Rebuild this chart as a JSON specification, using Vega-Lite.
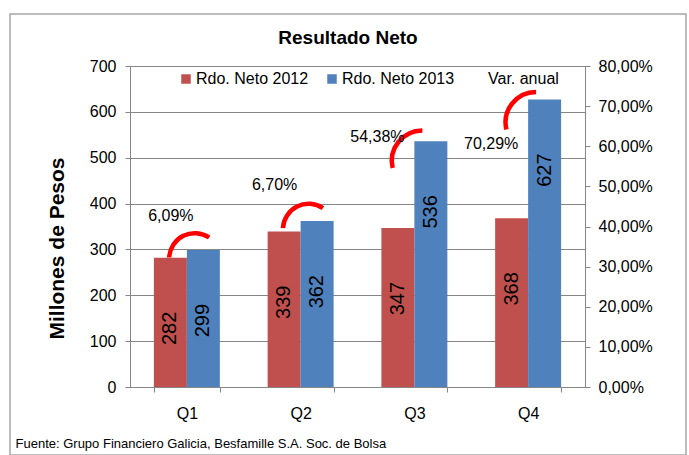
{
  "$schema": "https://vega.github.io/schema/vega-lite/v6.json",
  "width": 676,
  "height": 441,
  "autosize": {"type": "none"},
  "padding": {"left": 10, "top": 14, "right": 3, "bottom": 0},
  "background": "white",
  "config": {
    "view": {"stroke": "#A6A6A6", "strokeWidth": 1.5},
    "font": "Liberation Sans"
  },
  "title": {
    "text": "Resultado Neto",
    "font": "Liberation Sans",
    "fontSize": 19,
    "fontWeight": "bold",
    "color": "black",
    "anchor": "middle",
    "frame": "group",
    "baseline": "alphabetic",
    "offset": 0,
    "dy": 49
  },
  "datasets": {
    "barras": [
      {"q": "Q1", "serie": "Rdo. Neto 2012", "valor": 282},
      {"q": "Q1", "serie": "Rdo. Neto 2013", "valor": 299},
      {"q": "Q2", "serie": "Rdo. Neto 2012", "valor": 339},
      {"q": "Q2", "serie": "Rdo. Neto 2013", "valor": 362},
      {"q": "Q3", "serie": "Rdo. Neto 2012", "valor": 347},
      {"q": "Q3", "serie": "Rdo. Neto 2013", "valor": 536},
      {"q": "Q4", "serie": "Rdo. Neto 2012", "valor": 368},
      {"q": "Q4", "serie": "Rdo. Neto 2013", "valor": 627}
    ],
    "variacion": [
      {"q": "Q1", "var": 0.0609, "nivel_texto": 373, "nivel_arco": 280},
      {"q": "Q2", "var": 0.0670, "nivel_texto": 440, "nivel_arco": 344},
      {"q": "Q3", "var": 0.5438, "nivel_texto": 545, "nivel_arco": 493},
      {"q": "Q4", "var": 0.7029, "nivel_texto": 530, "nivel_arco": 577}
    ]
  },
  "layer": [
    {
      "layer": [
        {
          "data": {"name": "barras"},
          "mark": {"type": "bar"},
          "encoding": {
            "x": {
              "field": "q",
              "type": "nominal",
              "scale": {"range": [120, 575], "paddingInner": 0.42, "paddingOuter": 0.21},
              "axis": {
                "offset": -68,
                "labelAngle": 0,
                "tickBand": "extent",
                "tickSize": 5,
                "tickColor": "#868686",
                "domainColor": "#868686",
                "labelPadding": 13,
                "labelFont": "Liberation Sans",
                "labelFontSize": 16,
                "labelColor": "black",
                "title": "Fuente: Grupo Financiero Galicia, Besfamille S.A. Soc. de Bolsa",
                "titleFont": "Liberation Sans",
                "titleFontSize": 13,
                "titleFontWeight": "normal",
                "titleColor": "black",
                "titleAlign": "left",
                "titleBaseline": "middle",
                "titleX": 5,
                "titleY": 56
              }
            },
            "xOffset": {"field": "serie", "type": "nominal", "scale": {"paddingInner": 0}},
            "y": {
              "field": "valor",
              "type": "quantitative",
              "scale": {"domain": [0, 700], "range": [373, 52]},
              "axis": {
                "offset": -120,
                "values": [0, 100, 200, 300, 400, 500, 600, 700],
                "grid": true,
                "gridColor": "#868686",
                "domainColor": "#868686",
                "tickColor": "#868686",
                "tickSize": 5,
                "labelPadding": 9,
                "labelFont": "Liberation Sans",
                "labelFontSize": 16,
                "labelColor": "black",
                "title": "Millones de Pesos",
                "titleFont": "Liberation Sans",
                "titleFontSize": 21,
                "titleFontWeight": "bold",
                "titleColor": "black",
                "titleAngle": 270,
                "titleAlign": "center",
                "titleBaseline": "alphabetic",
                "titleX": -67,
                "titleY": 234
              }
            },
            "color": {
              "field": "serie",
              "type": "nominal",
              "scale": {
                "domain": ["Rdo. Neto 2012", "Rdo. Neto 2013", "Var. anual"],
                "range": ["#C0504D", "#4F81BD", "rgba(0,0,0,0)"]
              },
              "legend": {
                "orient": "none",
                "legendX": 168,
                "legendY": 57,
                "direction": "horizontal",
                "title": null,
                "symbolType": "square",
                "symbolSize": 90,
                "symbolStrokeWidth": 0,
                "labelFont": "Liberation Sans",
                "labelFontSize": 16,
                "labelColor": "black",
                "labelOffset": 2,
                "labelLimit": 300,
                "columnPadding": 15
              }
            }
          }
        },
        {
          "data": {"name": "barras"},
          "mark": {
            "type": "text",
            "angle": 270,
            "align": "right",
            "baseline": "middle",
            "dx": -54,
            "font": "Liberation Sans",
            "fontSize": 20,
            "color": "black"
          },
          "encoding": {
            "x": {"field": "q", "type": "nominal"},
            "xOffset": {"field": "serie", "type": "nominal"},
            "y": {"field": "valor", "type": "quantitative"},
            "text": {"field": "valor", "type": "quantitative"}
          }
        },
        {
          "data": {"name": "variacion"},
          "mark": {
            "type": "point",
            "filled": false,
            "color": "#FF0000",
            "strokeWidth": 4.5,
            "opacity": 1,
            "size": 4
          },
          "encoding": {
            "x": {"field": "q", "type": "nominal"},
            "y": {"field": "nivel_arco", "type": "quantitative"},
            "shape": {
              "field": "q",
              "type": "nominal",
              "scale": {
                "domain": ["Q1", "Q2", "Q3", "Q4"],
                "range": [
                  "M -17.7,-1.1 A 25.7,25.7 0 0 1 22.3,-21.1",
                  "M -17.7,-1.1 A 25.7,25.7 0 0 1 22.3,-21.1",
                  "M -21.7,7.1 A 30.5,30.5 0 0 1 8,-30.5",
                  "M -21.7,7.1 A 30.5,30.5 0 0 1 8,-30.5"
                ]
              },
              "legend": null
            }
          }
        },
        {
          "data": {"name": "variacion"},
          "transform": [
            {"filter": "datum.q === 'Q1'"},
            {"calculate": "replace(format(datum.var, '.2%'), '.', ',')", "as": "etiqueta"}
          ],
          "mark": {
            "type": "text",
            "align": "center",
            "baseline": "middle",
            "dx": -16,
            "font": "Liberation Sans",
            "fontSize": 16,
            "color": "black"
          },
          "encoding": {
            "x": {"field": "q", "type": "nominal"},
            "y": {"field": "nivel_texto", "type": "quantitative"},
            "text": {"field": "etiqueta", "type": "nominal"}
          }
        },
        {
          "data": {"name": "variacion"},
          "transform": [
            {"filter": "datum.q === 'Q2'"},
            {"calculate": "replace(format(datum.var, '.2%'), '.', ',')", "as": "etiqueta"}
          ],
          "mark": {
            "type": "text",
            "align": "center",
            "baseline": "middle",
            "dx": -26,
            "font": "Liberation Sans",
            "fontSize": 16,
            "color": "black"
          },
          "encoding": {
            "x": {"field": "q", "type": "nominal"},
            "y": {"field": "nivel_texto", "type": "quantitative"},
            "text": {"field": "etiqueta", "type": "nominal"}
          }
        },
        {
          "data": {"name": "variacion"},
          "transform": [
            {"filter": "datum.q === 'Q3' || datum.q === 'Q4'"},
            {"calculate": "replace(format(datum.var, '.2%'), '.', ',')", "as": "etiqueta"}
          ],
          "mark": {
            "type": "text",
            "align": "center",
            "baseline": "middle",
            "dx": -37,
            "font": "Liberation Sans",
            "fontSize": 16,
            "color": "black"
          },
          "encoding": {
            "x": {"field": "q", "type": "nominal"},
            "y": {"field": "nivel_texto", "type": "quantitative"},
            "text": {"field": "etiqueta", "type": "nominal"}
          }
        }
      ]
    },
    {
      "data": {"name": "variacion"},
      "mark": {"type": "point", "opacity": 0},
      "encoding": {
        "x": {"field": "q", "type": "nominal"},
        "y": {
          "field": "var",
          "type": "quantitative",
          "scale": {"domain": [0, 0.8], "range": [373, 52]},
          "axis": {
            "orient": "right",
            "offset": -101,
            "values": [0, 0.1, 0.2, 0.3, 0.4, 0.5, 0.6, 0.7, 0.8],
            "format": ".2%",
            "labelExpr": "replace(datum.label, '.', ',')",
            "grid": false,
            "domainColor": "#868686",
            "tickColor": "#868686",
            "tickSize": 5,
            "labelPadding": 8,
            "labelFont": "Liberation Sans",
            "labelFontSize": 16,
            "labelColor": "black",
            "title": null
          }
        }
      }
    }
  ],
  "resolve": {"scale": {"y": "independent"}}
}
